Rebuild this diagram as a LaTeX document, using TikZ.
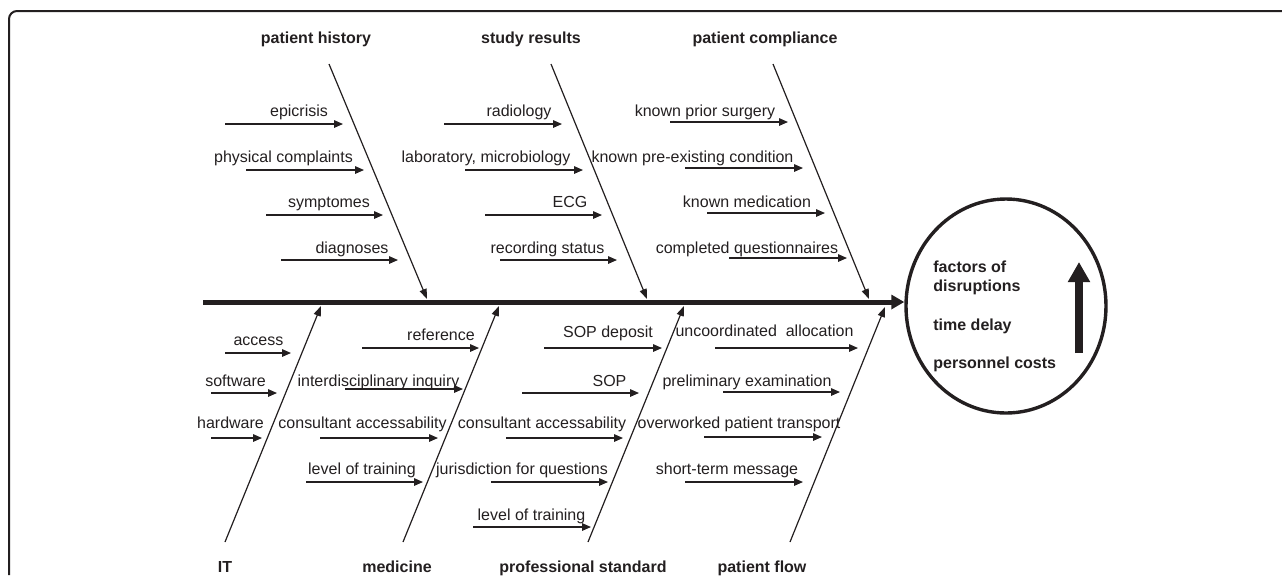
\documentclass[tikz,border=0pt]{standalone}
\usepackage{fontspec}
\setmainfont{Liberation Sans}
\usetikzlibrary{arrows.meta, shapes.geometric, positioning}

\definecolor{ink}{RGB}{35,31,32}

\tikzset{
  bone/.style={draw=ink, line width=0.6pt, -{Triangle[length=5pt, width=3.6pt]}},
  twig/.style={draw=ink, line width=0.6pt, -{Triangle[length=4.5pt, width=3.8pt]}},
  spine/.style={draw=ink, line width=2.5pt, -{Triangle[length=6.5pt, width=7pt]}},
  category/.style={font=\fontsize{8}{9.6}\selectfont\bfseries, text=ink, inner sep=0pt, anchor=base},
  cause/.style={text=ink, inner sep=0pt, anchor=base},
  effect/.style={draw=ink, line width=1.7pt, ellipse, minimum width=100pt, minimum height=107pt, inner sep=0pt},
  outcome/.style={font=\fontsize{8}{9.6}\selectfont\bfseries, text=ink, inner sep=0pt, anchor=base west}
}

\begin{document}
\begin{tikzpicture}[x=0.5pt, y=-0.5pt, font=\fontsize{8}{9.6}\selectfont]
  \useasboundingbox (0,0) rectangle (1282,575);

  % frame, cut off at right and bottom
  \draw[ink, line width=1pt, rounded corners=4pt] (1282,11) -- (9,11) -- (9,575);

  % effect
  \node[effect] (effect) at (1006,306) {};
  \node[outcome] (factors) at (933,272) {factors of};
  \node[outcome] (disrupt) at (933,291) {disruptions};
  \node[outcome] (delay) at (933,330) {time delay};
  \node[outcome] (costs) at (933,368) {personnel costs};
  \coordinate (rise s) at (1079,353);
  \coordinate (rise e) at (1079,262);
  \draw[ink, line width=4pt, -{Triangle[length=10pt, width=10.5pt]}] (rise s) -- (rise e);

  % spine
  \coordinate (tail) at (203,302);
  \draw[spine] (tail) -- (tail -| effect.west);

  % categories and bones
  \node[category] (history) at (316,43) {patient history};
  \node[category] (study) at (531,43) {study results};
  \node[category] (compliance) at (765,43) {patient compliance};
  \node[category] (it) at (225,572) {IT};
  \node[category] (medicine) at (397,572) {medicine};
  \node[category] (standard) at (583,572) {professional standard};
  \node[category] (flow) at (762,572) {patient flow};

  \coordinate (history s) at (329,64);   \coordinate (history e) at (427,299);
  \coordinate (study s) at (551,64);     \coordinate (study e) at (647,299);
  \coordinate (compliance s) at (773,64); \coordinate (compliance e) at (869,299);
  \coordinate (it s) at (225,542);       \coordinate (it e) at (321,306);
  \coordinate (medicine s) at (403,542); \coordinate (medicine e) at (499,306);
  \coordinate (standard s) at (588,542); \coordinate (standard e) at (684,306);
  \coordinate (flow s) at (790,542);     \coordinate (flow e) at (885,307);

  \foreach \b in {history, study, compliance, it, medicine, standard, flow}
    \draw[bone] (\b\space s) -- (\b\space e);

  % causes: text x / baseline / arrow from / arrow to / arrow y / text
  \foreach \cx/\by/\xa/\xb/\ay/\txt [count=\i] in {
    299/116/225/343/124/epicrisis,
    283.5/162/246/364/170/physical complaints,
    329/207/266/383/215/symptomes,
    352/253/281/398/260/diagnoses,
    519/116/444/562/124/radiology,
    486/162/465/583/170/{laboratory, microbiology},
    570/207/485/602/215/ECG,
    547.5/253/500/617/260/recording status,
    705/116/670/788/122/known prior surgery,
    692.5/162/685/803/168/known pre-existing condition,
    747/207/707/825/213/known medication,
    747/253/729/847/258/completed questionnaires,
    258.5/345/225/291/353/access,
    235.5/386/211/277/393/software,
    230.5/428/211/262/438/hardware,
    441/340/362/479/348/reference,
    378.5/386/345/463/389/interdisciplinary inquiry,
    362.5/428/320/438/438/consultant accessability,
    362/474/306/423/482/level of training,
    608/337/544/662/348/SOP deposit,
    609.5/386/522/639/393/SOP,
    542/428/506/623/438/consultant accessability,
    522/474/491/608/482/jurisdiction for questions,
    531.5/520/473/591/527/level of training,
    764.5/336/715/858/348/{uncoordinated\ \ allocation},
    747/386/723/840/392/preliminary examination,
    739/428/704/822/437/overworked patient transport,
    727/474/685/803/482/short-term message}
  {
    \node[cause] (cause\i) at (\cx,\by) {\txt};
    \coordinate (cause\i s) at (\xa,\ay);
    \coordinate (cause\i e) at (\xb,\ay);
    \draw[twig] (cause\i s) -- (cause\i e);
  }
\end{tikzpicture}
\end{document}
